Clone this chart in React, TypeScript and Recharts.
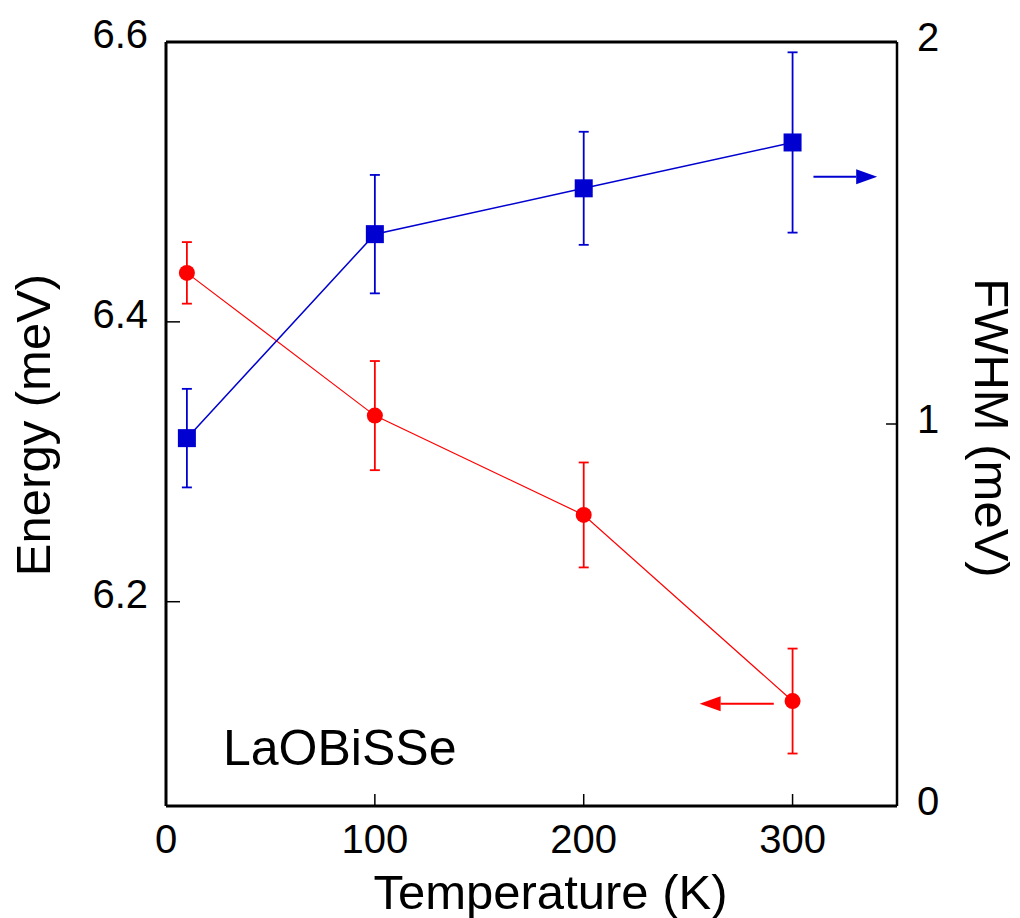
import React from "react";
import {
  ComposedChart,
  Line,
  XAxis,
  YAxis,
  ErrorBar,
  ReferenceLine,
  Label,
} from "recharts";

// ---- data ----
const temperatures = [10, 100, 200, 300];
const energyValues = [6.435, 6.333, 6.262, 6.129];
const energyErrors = [0.022, 0.039, 0.0375, 0.0375];
const fwhmValues = [0.963, 1.497, 1.617, 1.737];
const fwhmErrors = [0.129, 0.155, 0.148, 0.236];

const xTicks = [0, 100, 200, 300];
const energyTicks = [6.2, 6.4, 6.6];
const fwhmTicks = [0, 1, 2];

const X_DOMAIN = [0, 350];
const ENERGY_DOMAIN = [6.054, 6.6];
const FWHM_DOMAIN = [0, 2];

// arrow annotations (data coordinates): [fromX, toX, y]
const fwhmArrow = [310, 340.5, 1.647];
const energyArrow = [291, 255.5, 6.127];

const RED = "#FF0000";
const BLUE = "#0000D0";
const FONT = "'Liberation Sans', Arial, sans-serif";

const data = temperatures.map((t, i) => ({
  T: t,
  energy: energyValues[i],
  energyErr: energyErrors[i],
  fwhm: fwhmValues[i],
  fwhmErr: fwhmErrors[i],
}));

const BottomTick = (props: any) => {
  const { x, y, payload } = props;
  return (
    <g>
      <line x1={x} y1={y} x2={x} y2={y - 12} stroke="#000" strokeWidth={1.5} />
      <text
        x={x}
        y={y + 33}
        textAnchor="middle"
        dominantBaseline="central"
        fontSize={40}
        fontFamily={FONT}
        fill="#000"
      >
        {payload.value}
      </text>
    </g>
  );
};

const LeftTick = (props: any) => {
  const { x, y, payload } = props;
  return (
    <g>
      <line x1={x} y1={y} x2={x + 14} y2={y} stroke="#000" strokeWidth={1.5} />
      <text
        x={x - 18}
        y={y - 8}
        textAnchor="end"
        dominantBaseline="central"
        fontSize={40}
        fontFamily={FONT}
        fill="#000"
      >
        {payload.value}
      </text>
    </g>
  );
};

const RightTick = (props: any) => {
  const { x, y, payload } = props;
  return (
    <g>
      <line x1={x} y1={y} x2={x - 11} y2={y} stroke="#000" strokeWidth={1.5} />
      <text
        x={x + 20}
        y={y - 5}
        textAnchor="start"
        dominantBaseline="central"
        fontSize={40}
        fontFamily={FONT}
        fill="#000"
      >
        {payload.value}
      </text>
    </g>
  );
};

const renderCircle = (props: any) => {
  const { cx, cy, index } = props;
  if (cx == null || cy == null) return <g key={`c${index}`} />;
  return <circle key={`c${index}`} cx={cx} cy={cy} r={8} fill={RED} stroke="none" />;
};

const renderSquare = (props: any) => {
  const { cx, cy, index } = props;
  if (cx == null || cy == null) return <g key={`s${index}`} />;
  return <rect key={`s${index}`} x={cx - 9} y={cy - 9} width={18} height={18} fill={BLUE} stroke="none" />;
};

const arrowShape = (color: string) => (props: any) => {
  const { x1, y1, x2, y2 } = props;
  const dir = x2 > x1 ? 1 : -1;
  const headLen = 21;
  const headHalf = 7.5;
  const baseX = x2 - dir * headLen;
  return (
    <g>
      <line x1={x1} y1={y1} x2={baseX} y2={y2} stroke={color} strokeWidth={2} />
      <polygon
        points={`${x2},${y2} ${baseX},${y2 - headHalf} ${baseX},${y2 + headHalf}`}
        fill={color}
      />
    </g>
  );
};

export default function App() {
  return (
    <div style={{ position: "absolute", left: 0, top: 0, width: 1020, height: 918, background: "#fff" }}>
      <ComposedChart
        width={1020}
        height={918}
        data={data}
        margin={{ top: 42, right: 0, bottom: 0, left: 0 }}
      >
        <XAxis
          xAxisId="main"
          dataKey="T"
          type="number"
          domain={X_DOMAIN}
          ticks={xTicks}
          interval={0}
          height={112}
          tickSize={0}
          tickMargin={0}
          tick={BottomTick}
          axisLine={{ stroke: "#000", strokeWidth: 3 }}
          allowDataOverflow
        >
          <Label
            content={(p: any) => {
              const vb = p.viewBox || { x: 166, y: 806, width: 731 };
              return (
                <text
                  x={vb.x + vb.width / 2 + 19}
                  y={vb.y + 103}
                  textAnchor="middle"
                  fontSize={49}
                  fontFamily={FONT}
                  fill="#000"
                >
                  Temperature (K)
                </text>
              );
            }}
          />
        </XAxis>
        <YAxis
          yAxisId="left"
          orientation="left"
          type="number"
          domain={ENERGY_DOMAIN}
          ticks={energyTicks}
          interval={0}
          width={166}
          tickSize={0}
          tickMargin={0}
          tick={LeftTick}
          axisLine={{ stroke: "#000", strokeWidth: 3 }}
          allowDataOverflow
        >
          <Label
            content={(p: any) => {
              const vb = p.viewBox || { x: 0, y: 42, height: 764 };
              const cx = vb.x + 33;
              const cy = vb.y + vb.height / 2 + 1;
              return (
                <text
                  x={cx}
                  y={cy}
                  textAnchor="middle"
                  dominantBaseline="central"
                  transform={`rotate(-90, ${cx}, ${cy})`}
                  fontSize={49}
                  fontFamily={FONT}
                  fill="#000"
                >
                  Energy (meV)
                </text>
              );
            }}
          />
        </YAxis>
        <YAxis
          yAxisId="right"
          orientation="right"
          type="number"
          domain={FWHM_DOMAIN}
          ticks={fwhmTicks}
          interval={0}
          width={123}
          tickSize={0}
          tickMargin={0}
          tick={RightTick}
          axisLine={{ stroke: "#000", strokeWidth: 2.5 }}
          allowDataOverflow
        >
          <Label
            content={(p: any) => {
              const vb = p.viewBox || { x: 897, y: 42, height: 764 };
              const cx = vb.x + 95;
              const cy = vb.y + vb.height / 2 + 4;
              return (
                <text
                  x={cx}
                  y={cy}
                  textAnchor="middle"
                  dominantBaseline="central"
                  transform={`rotate(90, ${cx}, ${cy})`}
                  fontSize={49}
                  fontFamily={FONT}
                  fill="#000"
                >
                  FWHM (meV)
                </text>
              );
            }}
          />
        </YAxis>

        {/* top frame line */}
        <ReferenceLine
          xAxisId="main"
          yAxisId="left"
          y={ENERGY_DOMAIN[1]}
          stroke="#000"
          strokeWidth={3}
          ifOverflow="visible"
        />

        <Line
          xAxisId="main"
          yAxisId="left"
          type="linear"
          dataKey="energy"
          stroke={RED}
          strokeWidth={1.2}
          dot={renderCircle}
          activeDot={false}
          isAnimationActive={false}
        >
          <ErrorBar dataKey="energyErr" direction="y" width={5} stroke={RED} strokeWidth={1.8} />
        </Line>
        <Line
          xAxisId="main"
          yAxisId="right"
          type="linear"
          dataKey="fwhm"
          stroke={BLUE}
          strokeWidth={1.5}
          dot={renderSquare}
          activeDot={false}
          isAnimationActive={false}
        >
          <ErrorBar dataKey="fwhmErr" direction="y" width={5} stroke={BLUE} strokeWidth={1.8} />
        </Line>

        <ReferenceLine
          xAxisId="main"
          yAxisId="right"
          segment={[
            { x: fwhmArrow[0], y: fwhmArrow[2] },
            { x: fwhmArrow[1], y: fwhmArrow[2] },
          ]}
          stroke={BLUE}
          shape={arrowShape(BLUE)}
          ifOverflow="visible"
        />
        <ReferenceLine
          xAxisId="main"
          yAxisId="left"
          segment={[
            { x: energyArrow[0], y: energyArrow[2] },
            { x: energyArrow[1], y: energyArrow[2] },
          ]}
          stroke={RED}
          shape={arrowShape(RED)}
          ifOverflow="visible"
        />
      </ComposedChart>
      <svg
        width={1020}
        height={918}
        style={{ position: "absolute", left: 0, top: 0, pointerEvents: "none" }}
      >
        <text x={223} y={765} fontSize={50} fontFamily={FONT} fill="#000">
          LaOBiSSe
        </text>
      </svg>
    </div>
  );
}
